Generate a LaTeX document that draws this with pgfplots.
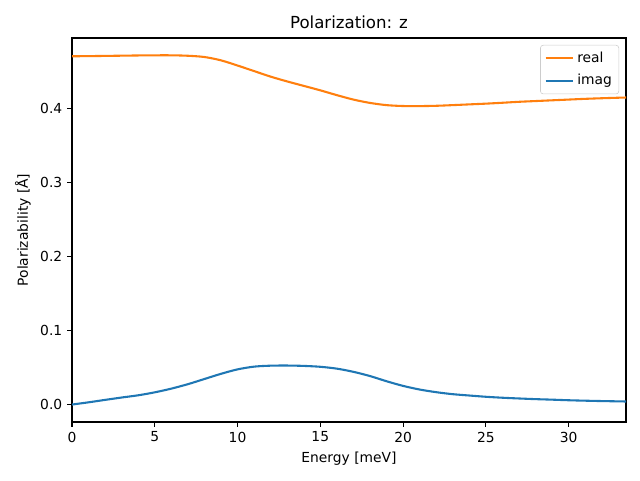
\documentclass[border=0pt]{standalone}
\usepackage{pgfplots}
\pgfplotsset{compat=1.18}
\usepackage{fontspec}
\setmainfont{DejaVu Sans}
\definecolor{mplorange}{HTML}{FF7F0E}
\definecolor{mplblue}{HTML}{1F77B4}
\begin{document}
\begin{tikzpicture}[x=1bp,y=1bp]
\path[use as bounding box] (-51.84,-41.76) rectangle (408.96,303.84);
\begin{axis}[
  at={(0,0)}, anchor=south west,
  scale only axis, width=398.88bp, height=276.48bp,
  xmin=0, xmax=33.47, ymin=-0.0236, ymax=0.4952,
  xtick={0,5,10,15,20,25,30},
  ytick={0,0.1,0.2,0.3,0.4},
  yticklabel style={/pgf/number format/fixed,/pgf/number format/fixed zerofill,/pgf/number format/precision=1},
  /pgf/number format/assume math mode=true,
  tick align=outside, tick pos=left,
  major tick length=3.5bp,
  every tick/.style={black, line width=0.8bp},
  axis line style={line width=0.8bp},
  ticklabel style={font=\fontsize{10}{12}\selectfont},
  xlabel={Energy [meV]}, ylabel={Polarizability [Å]},
  label style={font=\fontsize{10}{12}\selectfont},
  title={Polarization: z},
  title style={font=\fontsize{12}{14}\selectfont, at={(0.5,1)}, anchor=south, yshift=-2.5pt},
  legend style={at={(1,1)}, anchor=north east, xshift=-5bp, yshift=-5bp, draw=black!20, rounded corners=2pt, font=\fontsize{10}{12}\selectfont, row sep=3bp, inner sep=3bp},
  legend cell align=left,
  legend image code/.code={\draw[#1, line width=1.5bp] (0bp,0bp) -- (20bp,0bp);},
]
\addplot[mplorange, line width=1.5bp, smooth, tension=0.5] coordinates {
(0,0.4705) (1,0.4707) (2,0.4710) (3,0.4713) (4,0.4716) (5,0.4718) (6,0.4718) (7,0.4712) (8,0.4695) (9,0.4650) (10,0.4580) (11,0.4505) (12,0.4430) (13,0.4365) (14,0.4305) (15,0.4245) (16,0.4180) (17,0.4120) (18,0.4075) (19,0.4045) (20,0.4033) (21,0.4032) (22,0.4036) (23,0.4045) (24,0.4055) (25,0.4065) (26,0.4077) (27,0.4090) (28,0.4100) (29,0.4110) (30,0.4120) (31,0.4130) (32,0.4138) (33,0.4145) (33.5,0.4148)
};
\addlegendentry{real}
\addplot[mplblue, line width=1.5bp, smooth, tension=0.5] coordinates {
(0,0) (1,0.0030) (2,0.0063) (3,0.0095) (4,0.0125) (5,0.0165) (6,0.0215) (7,0.0275) (8,0.0345) (9,0.0415) (10,0.0475) (11,0.0512) (12,0.0525) (13,0.0527) (14,0.0522) (15,0.0510) (16,0.0485) (17,0.0442) (18,0.0385) (19,0.0315) (20,0.0252) (21,0.0203) (22,0.0167) (23,0.0140) (24,0.0122) (25,0.0105) (26,0.0092) (27,0.0082) (28,0.0073) (29,0.0066) (30,0.0058) (31,0.0052) (32,0.0047) (33,0.0043) (33.5,0.0041)
};
\addlegendentry{imag}
\end{axis}
\end{tikzpicture}
\end{document}
